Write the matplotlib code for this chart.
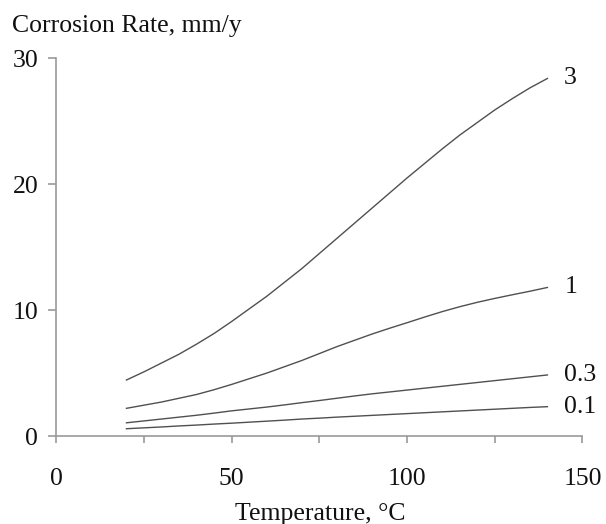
import matplotlib
matplotlib.use("Agg")
import matplotlib.pyplot as plt

plt.rcParams['font.family'] = ['Liberation Serif', 'DejaVu Serif']

temperature = [20, 25, 30, 35, 40, 45, 50, 55, 60, 65, 70, 75, 80,
               85, 90, 95, 100, 105, 110, 115, 120, 125, 130, 135, 140]
rate_3 = [4.45, 5.1, 5.8, 6.5, 7.3, 8.15, 9.1, 10.1, 11.1, 12.2, 13.3, 14.5, 15.7,
          16.9, 18.1, 19.3, 20.5, 21.65, 22.8, 23.9, 24.9, 25.9, 26.8, 27.65, 28.4]
rate_1 = [2.2, 2.45, 2.7, 3.0, 3.3, 3.68, 4.1, 4.55, 5.0, 5.5, 6.0, 6.55, 7.1,
          7.6, 8.1, 8.56, 9.0, 9.45, 9.88, 10.27, 10.62, 10.93, 11.22, 11.5, 11.8]
rate_03 = [1.05, 1.2, 1.35, 1.5, 1.65, 1.82, 2.0, 2.15, 2.3, 2.47, 2.65, 2.82, 3.0,
           3.18, 3.35, 3.5, 3.65, 3.8, 3.95, 4.1, 4.25, 4.4, 4.55, 4.7, 4.85]
rate_01 = [0.58, 0.65, 0.72, 0.8, 0.87, 0.95, 1.02, 1.1, 1.18, 1.26, 1.35, 1.42, 1.5,
           1.57, 1.64, 1.71, 1.78, 1.85, 1.92, 1.99, 2.06, 2.13, 2.2, 2.27, 2.33]
series = [rate_3, rate_1, rate_03, rate_01]
labels = ["3", "1", "0.3", "0.1"]
xticks = [0, 25, 50, 75, 100, 125, 150]
xticklabels = ['0', '', '50', '', '100', '', '150']
yticks = [0, 10, 20, 30]

FS = 18.5
fig = plt.figure(figsize=(6.06, 5.24), dpi=100)
ax = fig.add_axes([0.0929, 0.1679, 0.8683, 0.7208])

for vals, lab in zip(series, labels):
    ax.plot(temperature, vals, color='#505050', lw=1.0)
    ax.text(temperature[-1] + 4.8, vals[-1], lab, fontsize=FS, va='center', ha='left', color='#111111')

ax.set_xlim(0, 150)
ax.set_ylim(0, 30)
ax.set_xticks(xticks)
ax.set_xticklabels(xticklabels)
ax.set_yticks(yticks)

for side in ['top', 'right']:
    ax.spines[side].set_visible(False)
for side in ['left', 'bottom']:
    ax.spines[side].set_color('#9a9a9a')
    ax.spines[side].set_linewidth(1.2)

ax.tick_params(axis='x', direction='out', length=5, width=1.2, color='#9a9a9a',
               labelsize=FS, pad=18, labelcolor='#111111')
ax.tick_params(axis='y', direction='out', length=6, width=1.2, color='#9a9a9a',
               labelsize=FS, pad=7, labelcolor='#111111')

fig.text(320 / 606, 1 - 520 / 524, 'Temperature, °C', fontsize=FS,
         ha='center', va='baseline', color='#111111')
fig.text(12 / 606, 1 - 32 / 524, 'Corrosion Rate, mm/y', fontsize=FS,
         ha='left', va='baseline', color='#111111')

fig.savefig('out.png', dpi=100)
